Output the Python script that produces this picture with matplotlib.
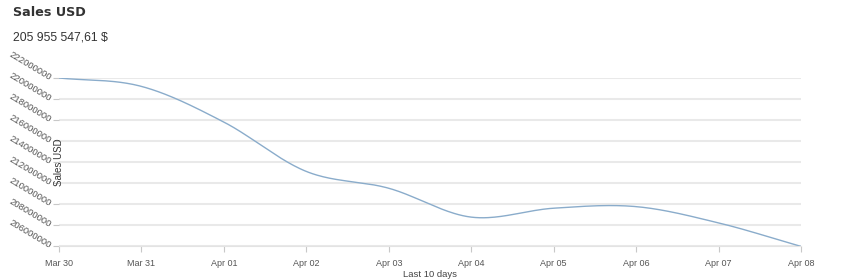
import numpy as np
import matplotlib
matplotlib.use("Agg")
import matplotlib.pyplot as plt

# data
days = ["Mar 30", "Mar 31", "Apr 01", "Apr 02", "Apr 03",
        "Apr 04", "Apr 05", "Apr 06", "Apr 07", "Apr 08"]
sales = [222000000, 221200000, 217800000, 213100000, 211500000,
         208750000, 209600000, 209750000, 208200000, 205960000]
y_ticks = [206000000, 208000000, 210000000, 212000000, 214000000,
           216000000, 218000000, 220000000, 222000000]
total_label = "205 955 547,61 $"


def catmull_rom(x, y, n=40):
    # smooth curve through the points
    x = np.asarray(x, float)
    y = np.asarray(y, float)
    px = np.concatenate([[2 * x[0] - x[1]], x, [2 * x[-1] - x[-2]]])
    py = np.concatenate([[2 * y[0] - y[1]], y, [2 * y[-1] - y[-2]]])
    xs, ys = [], []
    t = np.linspace(0, 1, n)
    for i in range(1, len(px) - 2):
        for p, out in ((px, xs), (py, ys)):
            p0, p1, p2, p3 = p[i - 1], p[i], p[i + 1], p[i + 2]
            out.append(0.5 * ((2 * p1) + (-p0 + p2) * t
                              + (2 * p0 - 5 * p1 + 4 * p2 - p3) * t ** 2
                              + (-p0 + 3 * p1 - 3 * p2 + p3) * t ** 3))
    return np.concatenate(xs), np.concatenate(ys)


plt.rcParams['font.family'] = ['Liberation Sans', 'DejaVu Sans']

fig = plt.figure(figsize=(8.5, 2.79), dpi=100)
ax = fig.add_axes([59 / 850, 1 - 246 / 279, 742 / 850, 168 / 279])

idx = np.arange(len(days))
cx, cy = catmull_rom(idx, sales)
ax.plot(cx, cy, color="#8aaccb", linewidth=1.0)

ax.set_xlim(0, len(days) - 1)
ax.set_ylim(y_ticks[0], y_ticks[-1])
ax.set_xticks(idx)
ax.set_xticklabels(days)
ax.set_yticks(y_ticks)
ax.set_yticklabels([str(v) for v in y_ticks])

ax.grid(axis="y", color="#e9e9e9", linewidth=1.5)
ax.set_axisbelow(True)
for s in ["top", "right", "left"]:
    ax.spines[s].set_visible(False)
ax.spines["bottom"].set_color("#e3e3e3")
ax.tick_params(axis="both", colors="#c8c8c8", length=4, width=0.8,
               labelsize=6.5, labelcolor="#555555")
ax.tick_params(axis="x", pad=5)
ax.tick_params(axis="y", pad=2, labelsize=6.8)
for lab in ax.get_yticklabels():
    lab.set_rotation(-31)
    lab.set_rotation_mode("anchor")
    lab.set_ha("right")
    lab.set_va("center")

ax.text(0.0, 0.5, "Sales USD", rotation=90, transform=ax.transAxes,
        ha="center", va="center", fontsize=7, color="#333333")
ax.set_xlabel("Last 10 days", fontsize=6.8, color="#444444", labelpad=2)

fig.text(13 / 850, 1 - 12 / 279, "Sales USD", fontsize=9.2, fontweight="bold",
         family="DejaVu Sans", color="#333333", va="center")
fig.text(13 / 850, 1 - 37 / 279, total_label, fontsize=8.8,
         color="#333333", va="center")

fig.savefig("out.png", dpi=100)
